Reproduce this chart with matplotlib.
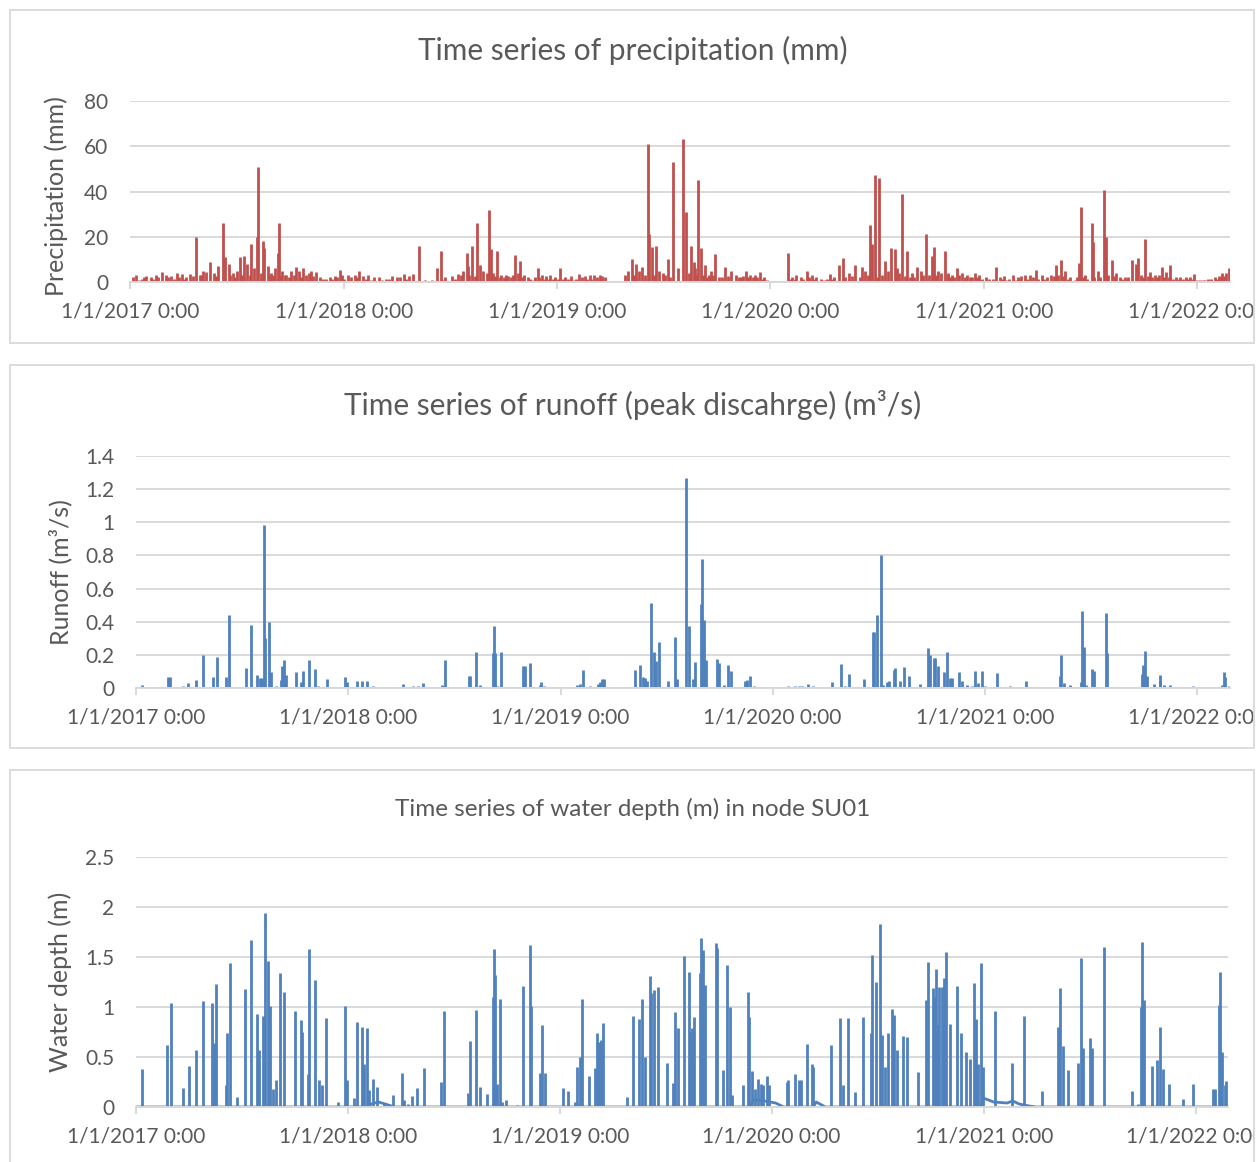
import matplotlib
matplotlib.use("Agg")
import matplotlib.pyplot as plt
import matplotlib.dates as mdates
from matplotlib.patches import Rectangle
from matplotlib.transforms import Bbox, TransformedBbox

plt.rcParams['font.family'] = ['Lato', 'DejaVu Sans']

GREY_TXT = '#595959'
GRID = '#D9D9D9'
RED = '#C0504D'
BLUE = '#4F81BD'

# axis range and ticks
record_start = '2017-01-01'
record_end = '2022-02-26'
year_ticks = ['2017-01-01', '2018-01-01', '2019-01-01', '2020-01-01', '2021-01-01', '2022-01-01']
year_labels = ['1/1/2017 0:00', '1/1/2018 0:00', '1/1/2019 0:00', '1/1/2020 0:00', '1/1/2021 0:00', '1/1/2022 0:00']

# precipitation (mm) - storm days
rain_dates = ['2017-04-24', '2017-05-17', '2017-05-31', '2017-06-09', '2017-06-12', '2017-06-18', '2017-07-07',
              '2017-07-15', '2017-07-27', '2017-08-06', '2017-08-08', '2017-08-16', '2017-08-18', '2017-08-24',
              '2017-09-06', '2017-09-10', '2017-09-12', '2017-10-12', '2017-10-24',
              '2018-05-10', '2018-06-09', '2018-06-16', '2018-07-16', '2018-07-31', '2018-08-08', '2018-08-17',
              '2018-08-23', '2018-09-07', '2018-09-10', '2018-09-21', '2018-10-21', '2018-10-30', '2018-11-30',
              '2019-05-09', '2019-05-17', '2019-05-27', '2019-06-06', '2019-06-07', '2019-06-13', '2019-06-19',
              '2019-07-10', '2019-07-18', '2019-08-04', '2019-08-10', '2019-08-19', '2019-08-23', '2019-08-31',
              '2019-09-05', '2019-09-11', '2019-09-29',
              '2020-02-01', '2020-04-27', '2020-05-04', '2020-05-26', '2020-06-06', '2020-06-20', '2020-06-23',
              '2020-06-28', '2020-07-06', '2020-07-15', '2020-07-26', '2020-08-01', '2020-08-13', '2020-08-23',
              '2020-09-09', '2020-09-24', '2020-10-04', '2020-10-07', '2020-10-27', '2020-11-15',
              '2021-01-21', '2021-03-31', '2021-05-04', '2021-05-12', '2021-06-13', '2021-06-16', '2021-07-04',
              '2021-07-06', '2021-07-26', '2021-07-29', '2021-08-08', '2021-09-11', '2021-09-18', '2021-09-22',
              '2021-10-04', '2021-11-02', '2021-11-16', '2022-02-13', '2022-02-20', '2022-02-24']
rain_mm = [20, 9, 7, 26, 11, 8, 11,
           11.5, 17, 20, 51, 18, 15, 7,
           6, 13, 26, 6.5, 6,
           16, 6, 13.7, 3.5, 13, 16, 26,
           7.7, 32, 14.4, 13.7, 12, 9.5, 6,
           10, 8, 6.5, 61, 21, 15.5, 16,
           10, 53, 63, 31, 16, 9, 45,
           15, 7.7, 12.5,
           12.6, 7.3, 10.7, 7.3, 6.5, 25, 17,
           47.5, 46, 9.2, 15, 14.4, 39, 13.7,
           6.5, 21.4, 11.4, 15.5, 13.7, 6,
           6.5, 5.5, 7.3, 9.7, 8.2, 33, 26,
           17.7, 40.7, 20, 9.7, 9.7, 8, 10.7,
           19, 6.5, 7.7, 4, 4, 6]

# precipitation (mm) - small daily totals
drizzle_dates = ['2017-01-05', '2017-01-11', '2017-01-20', '2017-01-28', '2017-02-05', '2017-02-13', '2017-02-24',
                 '2017-03-03', '2017-03-12', '2017-03-21', '2017-03-30', '2017-04-06', '2017-04-13', '2017-04-30',
                 '2017-05-05', '2017-05-11', '2017-05-24', '2017-06-25', '2017-07-02', '2017-07-20', '2017-08-01',
                 '2017-08-30', '2017-09-02', '2017-09-18', '2017-09-25', '2017-10-03', '2017-10-08', '2017-10-17',
                 '2017-10-28', '2017-11-02', '2017-11-06', '2017-11-15', '2017-11-22', '2017-12-01', '2017-12-08',
                 '2017-12-18', '2017-12-25', '2017-12-30',
                 '2018-01-08', '2018-01-20', '2018-01-28', '2018-02-03', '2018-02-12', '2018-02-22', '2018-03-03',
                 '2018-03-15', '2018-03-25', '2018-04-03', '2018-04-14', '2018-04-22', '2018-04-29', '2018-05-20',
                 '2018-06-01', '2018-06-24', '2018-07-05', '2018-07-24', '2018-08-01', '2018-08-28', '2018-09-03',
                 '2018-09-14', '2018-09-28', '2018-10-06', '2018-10-14', '2018-10-26', '2018-11-06', '2018-11-12',
                 '2018-11-20', '2018-12-07', '2018-12-14', '2018-12-21', '2018-12-28',
                 '2019-01-07', '2019-01-15', '2019-01-25', '2019-02-08', '2019-02-18', '2019-02-26', '2019-03-05',
                 '2019-03-15', '2019-03-25', '2019-04-28', '2019-05-03', '2019-05-22', '2019-06-25', '2019-07-01',
                 '2019-07-28', '2019-08-25', '2019-09-18', '2019-09-22', '2019-10-05', '2019-10-16', '2019-10-26',
                 '2019-11-03', '2019-11-12', '2019-11-20', '2019-11-28', '2019-12-06', '2019-12-15', '2019-12-22',
                 '2020-02-08', '2020-02-15', '2020-02-22', '2020-03-04', '2020-03-12', '2020-03-20', '2020-04-02',
                 '2020-04-12', '2020-04-20', '2020-05-15', '2020-06-12', '2020-07-20', '2020-08-05', '2020-08-30',
                 '2020-09-15', '2020-10-15', '2020-10-20', '2020-11-01', '2020-11-08', '2020-11-25', '2020-12-03',
                 '2020-12-16', '2020-12-24',
                 '2021-01-05', '2021-01-28', '2021-02-05', '2021-02-12', '2021-02-19', '2021-02-28', '2021-03-06',
                 '2021-03-12', '2021-03-20', '2021-04-10', '2021-04-18', '2021-04-26', '2021-05-20', '2021-05-28',
                 '2021-06-05', '2021-06-22', '2021-07-15', '2021-08-15', '2021-08-22', '2021-08-30', '2021-09-05',
                 '2021-10-12', '2021-10-20', '2021-11-09', '2021-11-25', '2021-12-03', '2021-12-12', '2021-12-20',
                 '2021-12-27', '2022-01-10', '2022-01-20', '2022-02-01', '2022-02-08']
drizzle_mm = [2, 3, 1.5, 2.5, 2, 3, 4.5,
              3, 2.5, 4, 3.5, 2, 3.7, 3,
              5, 4.3, 4, 4, 5, 8, 6,
              4, 3, 5, 3, 4.7, 3, 5,
              3, 4, 4.7, 4.5, 2, 1.5, 2,
              2.5, 5.2, 3,
              3, 3, 4.7, 2.5, 3, 2, 2,
              1.5, 2.5, 2, 3.5, 2.5, 3.5, 1,
              1, 2, 2.5, 5, 7, 5, 4,
              4, 3, 3, 2, 4, 3, 2,
              1, 3, 2.5, 3, 2,
              6, 2, 2.5, 3.7, 2.5, 3, 3,
              3, 2, 3, 5, 5, 5, 4,
              6, 6, 3, 5, 2, 6.5, 4.7,
              3, 2, 4.7, 3, 3, 4.2, 2,
              2, 3, 2, 4.7, 3, 2, 1,
              3.7, 2, 4, 5, 5, 6, 4,
              5, 5, 4, 4, 3, 4, 3,
              4, 3,
              2, 2, 2.5, 1.5, 3, 2, 2.5,
              3, 3, 3, 2, 3, 4.7, 2,
              1, 3, 4.7, 4, 2, 2, 2,
              4.3, 3, 4.5, 2, 2, 2, 2,
              3.5, 1, 1.5, 2, 2.5]

# precipitation (mm) - very light days
light_dates = ['2017-01-15', '2017-01-24', '2017-02-09', '2017-02-18', '2017-03-07', '2017-03-16', '2017-03-25',
               '2017-04-03', '2017-04-18', '2017-05-02', '2017-05-27', '2017-06-21', '2017-06-29', '2017-07-11',
               '2017-07-24', '2017-08-12', '2017-08-27', '2017-09-15', '2017-09-22', '2017-09-29', '2017-10-20',
               '2017-11-10', '2017-11-27', '2017-12-12', '2017-12-21',
               '2018-01-02', '2018-01-13', '2018-01-24', '2018-02-08', '2018-02-17', '2018-03-08', '2018-03-20',
               '2018-04-08', '2018-04-18', '2018-06-20', '2018-07-10', '2018-07-20', '2018-08-04', '2018-08-13',
               '2018-09-17', '2018-09-25', '2018-10-02', '2018-10-10', '2018-10-18', '2018-11-02', '2018-11-16',
               '2018-11-25', '2018-12-02', '2018-12-11', '2018-12-18', '2018-12-25',
               '2019-01-03', '2019-01-11', '2019-01-20', '2019-01-30', '2019-02-03', '2019-02-13', '2019-02-22',
               '2019-03-01', '2019-03-10', '2019-03-20', '2019-05-13', '2019-06-01', '2019-06-16', '2019-07-05',
               '2019-07-14', '2019-08-15', '2019-08-28', '2019-09-08', '2019-09-15', '2019-09-25', '2019-10-10',
               '2019-10-21', '2019-11-08', '2019-11-16', '2019-11-24', '2019-12-02', '2019-12-10', '2019-12-18',
               '2019-12-27',
               '2020-02-04', '2020-02-12', '2020-02-26', '2020-03-08', '2020-03-16', '2020-03-28', '2020-04-08',
               '2020-04-16', '2020-05-08', '2020-05-20', '2020-06-02', '2020-06-16', '2020-07-02', '2020-07-11',
               '2020-08-09', '2020-08-18', '2020-08-27', '2020-09-04', '2020-09-19', '2020-09-29', '2020-10-10',
               '2020-10-31', '2020-11-04', '2020-11-11', '2020-11-19', '2020-11-30', '2020-12-08', '2020-12-12',
               '2020-12-20', '2020-12-29',
               '2021-01-10', '2021-01-16', '2021-02-01', '2021-02-09', '2021-02-24', '2021-03-02', '2021-03-16',
               '2021-03-25', '2021-04-04', '2021-04-14', '2021-04-30', '2021-05-08', '2021-05-16', '2021-05-24',
               '2021-06-09', '2021-06-19', '2021-06-26', '2021-07-09', '2021-07-19', '2021-08-02', '2021-08-11',
               '2021-08-26', '2021-09-02', '2021-09-26', '2021-09-30', '2021-10-08', '2021-10-16', '2021-10-24',
               '2021-10-28', '2021-11-05', '2021-11-13', '2021-11-20', '2021-11-30', '2021-12-07', '2021-12-16',
               '2021-12-24', '2021-12-31', '2022-01-05', '2022-01-15', '2022-01-25', '2022-02-04', '2022-02-11',
               '2022-02-16']
light_mm = [1, 2, 1.5, 2, 2, 1.5, 2,
            1.5, 2.5, 3, 2.5, 3, 2, 3,
            3, 4, 3, 2.5, 3, 2, 2,
            2.5, 1.5, 1.5, 2,
            1.5, 2, 2, 1.5, 1, 1, 1.5,
            2, 1.5, 1, 1.5, 3, 3, 2.5,
            2.5, 2, 2, 2.5, 3, 2, 1.5,
            2, 2, 1.5, 1.5, 1.5,
            1.5, 1.5, 1.5, 1, 1.5, 2, 1.5,
            1.5, 2, 2.5, 3, 3, 3, 3,
            2, 4, 3, 3, 2, 3, 2,
            2.5, 2, 2.5, 2, 2, 2, 1.5,
            1,
            1.5, 1.5, 1.5, 2, 1.5, 1.5, 1.5,
            1.5, 2, 2.5, 2, 3, 2, 3,
            4, 2.5, 2, 2, 3, 3, 3,
            3, 2, 2, 3, 2, 2, 2,
            2, 1.5,
            1.5, 1.5, 1.5, 1, 1, 1.5, 1.5,
            2, 1.5, 1.5, 2.5, 3, 2.5, 1.5,
            2, 2, 1.5, 2, 2, 3, 2.5,
            1.5, 1.5, 3, 2, 2.5, 2, 2,
            3, 2, 2, 1.5, 1.5, 1.5, 1.5,
            1.5, 1, 1, 1, 1.5, 1.5, 2,
            2.5]

# runoff, peak discharge (m3/s)
runoff_dates = ['2017-01-11', '2017-02-24', '2017-02-28', '2017-03-22', '2017-03-31', '2017-04-14', '2017-04-25',
                '2017-05-12', '2017-05-19', '2017-06-05', '2017-06-10', '2017-07-08', '2017-07-17', '2017-07-28',
                '2017-08-01', '2017-08-05', '2017-08-09', '2017-08-11', '2017-08-17', '2017-08-20', '2017-08-30',
                '2017-09-06', '2017-09-09', '2017-09-12', '2017-09-15', '2017-10-03', '2017-10-11', '2017-10-14',
                '2017-10-25', '2017-11-05', '2017-11-10', '2017-11-25', '2017-12-15', '2017-12-26', '2017-12-30',
                '2018-01-16', '2018-01-24', '2018-02-01', '2018-02-13', '2018-03-13', '2018-04-05', '2018-04-22',
                '2018-05-01', '2018-05-10', '2018-06-11', '2018-06-16', '2018-07-27', '2018-07-29', '2018-08-09',
                '2018-08-16', '2018-09-06', '2018-09-08', '2018-09-10', '2018-09-13', '2018-09-21', '2018-09-26',
                '2018-10-05', '2018-10-28', '2018-10-31', '2018-11-10', '2018-11-26', '2018-11-29', '2018-12-04',
                '2018-12-23',
                '2019-01-01', '2019-01-30', '2019-02-03', '2019-02-08', '2019-02-20', '2019-03-07', '2019-03-10',
                '2019-03-13', '2019-03-17', '2019-04-25', '2019-05-09', '2019-05-18', '2019-05-23', '2019-05-26',
                '2019-05-30', '2019-06-05', '2019-06-11', '2019-06-14', '2019-06-19', '2019-07-05', '2019-07-17',
                '2019-07-21', '2019-08-04', '2019-08-10', '2019-08-17', '2019-08-20', '2019-08-30', '2019-09-02',
                '2019-09-05', '2019-09-08', '2019-09-28', '2019-09-30', '2019-10-10', '2019-10-16', '2019-10-21',
                '2019-11-15', '2019-11-18', '2019-11-23', '2019-11-29', '2019-12-12', '2019-12-28',
                '2020-01-27', '2020-02-08', '2020-02-15', '2020-02-20', '2020-03-01', '2020-03-10', '2020-04-12',
                '2020-04-28', '2020-05-04', '2020-05-11', '2020-05-24', '2020-06-07', '2020-06-21', '2020-06-23',
                '2020-06-29', '2020-07-06', '2020-07-09', '2020-07-16', '2020-07-20', '2020-07-27', '2020-07-29',
                '2020-08-07', '2020-08-14', '2020-08-22', '2020-09-11', '2020-09-24', '2020-09-28', '2020-10-05',
                '2020-10-07', '2020-10-11', '2020-10-21', '2020-10-27', '2020-11-01', '2020-11-04', '2020-11-16',
                '2020-11-21', '2020-11-30', '2020-12-09', '2020-12-15', '2020-12-19', '2020-12-27',
                '2021-01-01', '2021-01-21', '2021-02-13', '2021-03-12', '2021-04-13', '2021-05-09', '2021-05-12',
                '2021-05-17', '2021-05-26', '2021-06-14', '2021-06-17', '2021-06-19', '2021-06-23', '2021-07-04',
                '2021-07-07', '2021-07-28', '2021-07-30', '2021-09-12', '2021-09-27', '2021-09-30', '2021-10-02',
                '2021-10-06', '2021-10-19', '2021-10-28', '2021-10-29', '2021-11-04', '2021-11-14', '2021-12-10',
                '2021-12-25', '2022-01-31', '2022-02-12', '2022-02-15', '2022-02-18', '2022-02-24']
runoff_m3s = [0.02, 0.065, 0.065, 0.01, 0.03, 0.05, 0.2,
              0.065, 0.185, 0.065, 0.44, 0.12, 0.38, 0.08,
              0.06, 0.06, 0.985, 0.3, 0.4, 0.095, 0.01,
              0.05, 0.13, 0.167, 0.08, 0.097, 0.035, 0.1,
              0.167, 0.117, 0.01, 0.055, 0.005, 0.065, 0.035,
              0.04, 0.045, 0.045, 0.01, 0.006, 0.025, 0.01,
              0.01, 0.03, 0.02, 0.17, 0.075, 0.075, 0.217,
              0.02, 0.21, 0.376, 0.21, 0.01, 0.217, 0.006,
              0.006, 0.135, 0.13, 0.15, 0.02, 0.035, 0.014,
              0.006,
              0.006, 0.02, 0.026, 0.11, 0.01, 0.025, 0.035,
              0.055, 0.055, 0.006, 0.11, 0.137, 0.065, 0.06,
              0.045, 0.51, 0.215, 0.16, 0.28, 0.045, 0.31,
              0.055, 1.27, 0.376, 0.055, 0.155, 0.507, 0.78,
              0.41, 0.167, 0.175, 0.15, 0.02, 0.14, 0.1,
              0.04, 0.05, 0.07, 0.014, 0.008, 0.008,
              0.01, 0.01, 0.01, 0.01, 0.025, 0.01, 0.035,
              0.147, 0.014, 0.085, 0.006, 0.056, 0.336, 0.336,
              0.44, 0.8, 0.02, 0.035, 0.04, 0.11, 0.12,
              0.045, 0.125, 0.07, 0.025, 0.24, 0.197, 0.18,
              0.18, 0.13, 0.095, 0.217, 0.06, 0.06, 0.095,
              0.045, 0.02, 0.01, 0.1, 0.03, 0.105,
              0.01, 0.09, 0.01, 0.045, 0.006, 0.07, 0.2,
              0.03, 0.02, 0.035, 0.467, 0.25, 0.02, 0.115,
              0.1, 0.453, 0.21, 0.006, 0.087, 0.14, 0.225,
              0.07, 0.025, 0.04, 0.077, 0.02, 0.02, 0.006,
              0.014, 0.006, 0.02, 0.097, 0.065, 0.014]

# water depth in node SU01 (m) - event peaks
depth_dates = ['2017-01-11', '2017-02-22', '2017-03-01', '2017-03-22', '2017-04-01', '2017-04-13', '2017-04-25',
               '2017-05-12', '2017-05-15', '2017-05-19', '2017-06-05', '2017-06-07', '2017-06-11', '2017-06-24',
               '2017-07-08', '2017-07-17', '2017-07-28', '2017-07-31', '2017-08-07', '2017-08-10', '2017-08-16',
               '2017-08-19', '2017-08-24', '2017-08-29', '2017-09-06', '2017-09-13', '2017-10-02', '2017-10-12',
               '2017-10-14', '2017-10-23', '2017-10-25', '2017-11-05', '2017-11-12', '2017-11-17', '2017-11-24',
               '2017-12-14', '2017-12-26', '2017-12-30',
               '2018-01-11', '2018-01-16', '2018-01-25', '2018-01-29', '2018-02-02', '2018-02-06', '2018-02-13',
               '2018-02-19', '2018-03-04', '2018-03-19', '2018-04-04', '2018-04-07', '2018-04-15', '2018-04-22',
               '2018-04-30', '2018-05-11', '2018-06-10', '2018-06-16', '2018-07-27', '2018-07-30', '2018-08-09',
               '2018-08-16', '2018-08-28', '2018-09-07', '2018-09-09', '2018-09-12', '2018-09-15', '2018-09-20',
               '2018-09-24', '2018-10-01', '2018-10-19', '2018-10-29', '2018-11-10', '2018-11-12', '2018-11-27',
               '2018-12-02', '2018-12-06',
               '2019-01-07', '2019-01-15', '2019-01-27', '2019-01-31', '2019-02-04', '2019-02-09', '2019-02-20',
               '2019-03-02', '2019-03-06', '2019-03-09', '2019-03-13', '2019-03-17', '2019-04-27', '2019-05-08',
               '2019-05-17', '2019-05-23', '2019-05-28', '2019-06-05', '2019-06-08', '2019-06-12', '2019-06-19',
               '2019-07-05', '2019-07-15', '2019-07-18', '2019-07-24', '2019-08-03', '2019-08-11', '2019-08-14',
               '2019-08-17', '2019-08-20', '2019-08-30', '2019-09-02', '2019-09-05', '2019-09-08', '2019-09-27',
               '2019-09-29', '2019-10-09', '2019-10-17', '2019-10-21', '2019-10-25', '2019-11-12', '2019-11-21',
               '2019-11-23', '2019-11-28', '2019-12-03', '2019-12-09', '2019-12-13', '2019-12-18', '2019-12-24',
               '2019-12-28',
               '2020-01-27', '2020-01-30', '2020-02-10', '2020-02-18', '2020-02-21', '2020-03-02', '2020-03-11',
               '2020-03-13', '2020-04-12', '2020-04-28', '2020-05-03', '2020-05-11', '2020-05-24', '2020-06-07',
               '2020-06-21', '2020-06-23', '2020-06-29', '2020-07-06', '2020-07-09', '2020-07-15', '2020-07-20',
               '2020-07-26', '2020-07-31', '2020-08-05', '2020-08-14', '2020-08-21', '2020-09-09', '2020-09-24',
               '2020-09-26', '2020-10-05', '2020-10-08', '2020-10-11', '2020-10-14', '2020-10-16', '2020-10-21',
               '2020-10-24', '2020-10-28', '2020-11-03', '2020-11-16', '2020-11-22', '2020-12-01', '2020-12-09',
               '2020-12-15', '2020-12-18', '2020-12-22', '2020-12-27', '2020-12-31',
               '2021-01-21', '2021-02-18', '2021-03-12', '2021-04-12', '2021-05-09', '2021-05-12', '2021-05-17',
               '2021-05-26', '2021-06-13', '2021-06-18', '2021-06-21', '2021-07-03', '2021-07-06', '2021-07-27',
               '2021-09-14', '2021-09-23', '2021-09-29', '2021-10-01', '2021-10-05', '2021-10-18', '2021-10-26',
               '2021-10-31', '2021-11-06', '2021-11-16', '2021-12-11', '2021-12-27',
               '2022-02-01', '2022-02-03', '2022-02-11', '2022-02-13', '2022-02-15', '2022-02-20', '2022-02-23']
depth_m = [0.385, 0.62, 1.04, 0.19, 0.41, 0.57, 1.06,
           1.04, 0.64, 1.23, 0.22, 0.74, 1.44, 0.1,
           1.18, 1.67, 0.93, 0.57, 0.91, 1.94, 1.46,
           1.01, 0.18, 0.27, 1.34, 1.15, 0.96, 0.87,
           0.75, 0.33, 1.58, 1.27, 0.27, 0.22, 0.89,
           0.05, 1.01, 0.27,
           0.09, 0.85, 0.8, 0.43, 0.79, 0.17, 0.28,
           0.2, 0.04, 0.12, 0.34, 0.07, 0.03, 0.11,
           0.19, 0.39, 0.25, 0.96, 0.14, 0.66, 0.97,
           0.2, 0.13, 1.1, 1.58, 1.32, 0.23, 1.08,
           0.05, 0.07, 0.02, 1.21, 1.62, 1.01, 0.34,
           0.82, 0.34,
           0.19, 0.16, 0.05, 0.4, 0.5, 1.08, 0.31,
           0.39, 0.74, 0.65, 0.67, 0.84, 0.1, 0.91,
           0.88, 1.08, 0.5, 1.31, 1.14, 1.17, 1.2,
           0.44, 0.24, 0.95, 0.79, 1.51, 1.35, 0.75,
           0.79, 0.9, 1.34, 1.69, 1.57, 1.22, 1.64,
           1.59, 0.37, 1.42, 1.0, 0.12, 0.22, 1.15,
           0.9, 0.36, 0.18, 0.28, 0.23, 0.22, 0.31,
           0.22,
           0.25, 0.27, 0.33, 0.27, 0.27, 0.63, 0.43,
           0.4, 0.62, 0.89, 0.22, 0.89, 0.15, 0.9,
           0.74, 1.52, 1.25, 1.83, 0.72, 0.4, 0.74,
           0.98, 0.92, 0.57, 0.71, 0.7, 0.35, 1.07,
           1.45, 1.19, 1.1, 1.38, 0.82, 1.2, 1.2,
           1.29, 1.55, 0.83, 1.21, 0.74, 0.55, 0.48,
           1.24, 0.88, 0.43, 1.44, 0.4,
           0.96, 0.44, 0.91, 0.16, 0.8, 1.19, 0.61,
           0.37, 0.44, 1.49, 0.59, 0.69, 0.59, 1.6,
           0.16, 0.03, 1.0, 1.65, 1.07, 0.41, 0.47,
           0.8, 0.38, 0.23, 0.08, 0.23,
           0.18, 0.18, 1.02, 1.35, 0.55, 0.22, 0.26]

# water depth (m) - slow recession between events
base_dates = ['2017-01-01', '2018-02-04', '2018-02-10', '2018-02-22', '2018-03-06', '2018-03-22',
              '2019-11-25', '2019-12-01', '2019-12-20', '2020-01-08', '2020-01-22', '2020-03-13',
              '2020-03-18', '2020-04-03', '2020-12-26', '2020-12-31', '2021-01-18', '2021-02-10',
              '2021-02-20', '2021-03-03', '2021-03-20', '2021-04-02', '2022-02-26']
base_m = [0, 0, 0.03, 0.05, 0.03, 0,
          0, 0.07, 0.06, 0.04, 0, 0,
          0.05, 0, 0, 0.09, 0.05, 0.04,
          0.06, 0.03, 0.01, 0, 0]

precip_ticks = [0, 20, 40, 60, 80]
runoff_ticks = [0, 0.2, 0.4, 0.6, 0.8, 1, 1.2, 1.4]
depth_ticks = [0, 0.5, 1, 1.5, 2, 2.5]

W, H = 1260, 1162
fig = plt.figure(figsize=(W / 100, H / 100), dpi=100)


def fx(px):
    return px / W


def fy(py):
    return 1 - py / H


def make_panel(box, axpos, title, tsize, title_y, ylabel, ylabel_xy, yticks):
    # box / axpos given in pixels: (left, top, right, bottom)
    l, t, r, b = box
    rect = Rectangle((fx(l), fy(b)), fx(r) - fx(l), fy(t) - fy(b), transform=fig.transFigure,
                     fill=False, edgecolor=GRID, lw=1.3)
    fig.add_artist(rect)
    al, at, ar, ab = axpos
    ax = fig.add_axes([fx(al), fy(ab), fx(ar) - fx(al), fy(at) - fy(ab)])
    fig.text(fx(633), fy(title_y), title, ha='center', va='center',
             fontsize=tsize, color=GREY_TXT)
    fig.text(fx(ylabel_xy[0]), fy(ylabel_xy[1]), ylabel, rotation=90, ha='center', va='center',
             fontsize=18, color=GREY_TXT)

    ax.set_xlim(mdates.datestr2num(record_start), mdates.datestr2num(record_end))
    ax.set_ylim(yticks[0], yticks[-1])
    ax.set_yticks(yticks)
    ax.set_yticklabels([f'{v:g}' for v in yticks])
    ax.set_xticks(mdates.datestr2num(year_ticks))
    ax.set_xticklabels(year_labels)
    ax.grid(axis='y', color=GRID, lw=1.4)
    ax.set_axisbelow(True)
    for side in ['top', 'right', 'left']:
        ax.spines[side].set_visible(False)
    ax.spines['bottom'].set_color(GRID)
    ax.spines['bottom'].set_linewidth(1.4)
    ax.tick_params(axis='x', length=5, width=1.4, color=GRID, pad=9, labelsize=15, labelcolor=GREY_TXT)
    ax.tick_params(axis='y', length=0, pad=16, labelsize=15, labelcolor=GREY_TXT)
    clip = TransformedBbox(Bbox.from_extents(fx(l), fy(b), fx(r), fy(t)), fig.transFigure)
    for lbl in ax.get_xticklabels():
        lbl.set_clip_box(clip)
        lbl.set_clip_on(True)
    return ax


LW = 2.0

# precipitation
ax1 = make_panel((10, 10, 1254, 343), (130.4, 101, 1230, 282),
                 'Time series of precipitation (mm)', 21.5, 50, 'Precipitation (mm)', (56, 196), precip_ticks)
ax1.plot(mdates.datestr2num([record_start, record_end]), [0, 0], color=RED, lw=LW)
ax1.vlines(mdates.datestr2num(light_dates), 0, light_mm, color=RED, lw=LW)
ax1.vlines(mdates.datestr2num(drizzle_dates), 0, drizzle_mm, color=RED, lw=LW)
ax1.vlines(mdates.datestr2num(rain_dates), 0, rain_mm, color=RED, lw=LW)

# runoff
ax2 = make_panel((10, 365, 1254, 748), (136.4, 456, 1230, 688),
                 'Time series of runoff (peak discahrge) (m\u00b3/s)', 21.5, 405, 'Runoff (m\u00b3/s)', (60, 572),
                 runoff_ticks)
ax2.plot(mdates.datestr2num([record_start, record_end]), [0, 0], color=BLUE, lw=LW)
ax2.vlines(mdates.datestr2num(runoff_dates), 0, runoff_m3s, color=BLUE, lw=LW)

# water depth
ax3 = make_panel((10, 770, 1254, 1180), (136.4, 857, 1228, 1107),
                 'Time series of water depth (m) in node SU01', 17.5, 809, 'Water depth (m)', (60, 982),
                 depth_ticks)
ax3.plot(mdates.datestr2num(base_dates), base_m, color=BLUE, lw=LW)
ax3.vlines(mdates.datestr2num(depth_dates), 0, depth_m, color=BLUE, lw=LW)

fig.savefig('out.png', dpi=100)
